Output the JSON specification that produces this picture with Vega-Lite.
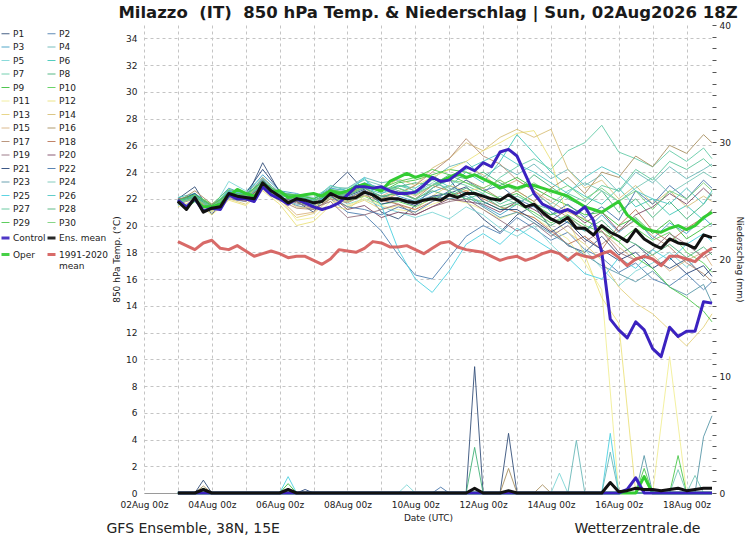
{
  "$schema": "https://vega.github.io/schema/vega-lite/v6.json",
  "width": 568,
  "height": 468,
  "autosize": "none",
  "padding": {"left": 144, "top": 25, "right": 38, "bottom": 54},
  "background": "white",
  "title": {
    "text": "Milazzo\u00a0 (IT)\u00a0 850 hPa Temp. & Niederschlag | Sun, 02Aug2026 18Z",
    "fontSize": 16.5,
    "fontWeight": "bold",
    "anchor": "middle",
    "offset": 0,
    "color": "#1a1a1a"
  },
  "config": {
    "font": "DejaVu Sans",
    "view": {"stroke": null},
    "axis": {
      "labelFontSize": 9,
      "labelColor": "#222",
      "titleFontSize": 9,
      "titleFontWeight": "normal",
      "titleColor": "#222",
      "gridColor": "#c4c4c4",
      "gridDash": [3, 3],
      "domain": false,
      "ticks": false
    }
  },
  "datasets": {
    "ens": [
      {"t":"2026-08-03T00:00Z","P1":22.0,"P2":21.6,"P3":21.9,"P4":21.7,"P5":21.5,"P6":22.1,"P7":21.9,"P8":21.7,"P9":21.8,"P10":21.9,"P11":21.6,"P12":21.4,"P13":21.8,"P14":22.0,"P15":21.7,"P16":21.8,"P17":21.6,"P18":21.9,"P19":22.0,"P20":21.7,"P21":21.8,"P22":21.9,"P23":21.8,"P24":21.7,"P25":21.6,"P26":21.8,"P27":21.9,"P28":21.8,"P29":21.9,"P30":21.8},
      {"t":"2026-08-03T12:00Z","P1":22.9,"P2":22.3,"P3":22.4,"P4":22.0,"P5":22.2,"P6":22.4,"P7":22.0,"P8":22.2,"P9":22.0,"P10":22.3,"P11":22.1,"P12":21.9,"P13":21.9,"P14":22.2,"P15":22.1,"P16":22.6,"P17":22.0,"P18":22.3,"P19":22.2,"P20":22.1,"P21":22.4,"P22":22.2,"P23":22.1,"P24":22.0,"P25":22.3,"P26":22.2,"P27":22.1,"P28":22.2,"P29":22.3,"P30":22.0},
      {"t":"2026-08-04T00:00Z","P1":20.8,"P2":21.2,"P3":21.5,"P4":21.0,"P5":21.1,"P6":21.4,"P7":21.2,"P8":21.5,"P9":21.4,"P10":21.6,"P11":21.0,"P12":20.8,"P13":21.1,"P14":21.5,"P15":21.3,"P16":21.6,"P17":21.2,"P18":21.4,"P19":21.3,"P20":21.5,"P21":21.2,"P22":21.4,"P23":21.3,"P24":21.4,"P25":21.3,"P26":21.2,"P27":21.5,"P28":21.3,"P29":21.5,"P30":21.4},
      {"t":"2026-08-04T12:00Z","P1":22.6,"P2":22.0,"P3":22.8,"P4":22.3,"P5":23.3,"P6":22.4,"P7":22.2,"P8":22.5,"P9":22.6,"P10":22.7,"P11":22.2,"P12":21.9,"P13":22.0,"P14":22.3,"P15":22.5,"P16":22.3,"P17":22.1,"P18":22.4,"P19":22.2,"P20":22.3,"P21":22.6,"P22":22.5,"P23":22.4,"P24":22.6,"P25":22.6,"P26":22.3,"P27":22.4,"P28":22.5,"P29":22.4,"P30":22.3},
      {"t":"2026-08-05T00:00Z","P1":22.0,"P2":21.8,"P3":22.3,"P4":22.4,"P5":22.6,"P6":22.1,"P7":22.2,"P8":22.0,"P9":22.3,"P10":22.4,"P11":21.9,"P12":21.5,"P13":21.6,"P14":22.0,"P15":22.0,"P16":22.1,"P17":21.8,"P18":22.2,"P19":22.3,"P20":21.9,"P21":22.4,"P22":22.2,"P23":22.0,"P24":22.4,"P25":22.3,"P26":22.3,"P27":22.1,"P28":22.3,"P29":22.3,"P30":22.2},
      {"t":"2026-08-05T12:00Z","P1":24.7,"P2":23.5,"P3":23.8,"P4":23.0,"P5":23.6,"P6":23.1,"P7":22.8,"P8":23.4,"P9":23.3,"P10":23.0,"P11":22.9,"P12":22.6,"P13":22.7,"P14":23.4,"P15":23.0,"P16":23.6,"P17":23.0,"P18":23.3,"P19":23.2,"P20":23.0,"P21":24.2,"P22":23.4,"P23":23.1,"P24":23.5,"P25":23.3,"P26":23.2,"P27":23.0,"P28":23.3,"P29":23.3,"P30":23.2},
      {"t":"2026-08-06T00:00Z","P1":22.5,"P2":22.0,"P3":22.6,"P4":22.0,"P5":22.4,"P6":22.5,"P7":21.9,"P8":22.3,"P9":22.4,"P10":22.0,"P11":22.1,"P12":21.6,"P13":21.8,"P14":22.2,"P15":22.0,"P16":22.4,"P17":21.9,"P18":22.3,"P19":22.0,"P20":22.1,"P21":22.6,"P22":22.3,"P23":22.1,"P24":22.5,"P25":22.4,"P26":22.2,"P27":22.4,"P28":22.3,"P29":22.4,"P30":22.3},
      {"t":"2026-08-06T12:00Z","P1":21.8,"P2":21.5,"P3":22.4,"P4":21.6,"P5":21.9,"P6":22.2,"P7":22.0,"P8":22.1,"P9":22.3,"P10":21.8,"P11":20.4,"P12":20.0,"P13":20.6,"P14":21.4,"P15":20.8,"P16":22.0,"P17":21.3,"P18":22.0,"P19":21.7,"P20":21.8,"P21":22.0,"P22":22.1,"P23":21.9,"P24":22.3,"P25":22.0,"P26":22.1,"P27":22.2,"P28":22.2,"P29":22.3,"P30":22.1},
      {"t":"2026-08-07T00:00Z","P1":21.0,"P2":21.2,"P3":22.0,"P4":21.5,"P5":21.8,"P6":21.9,"P7":21.7,"P8":21.6,"P9":22.0,"P10":21.4,"P11":20.6,"P12":20.3,"P13":20.9,"P14":21.3,"P15":21.0,"P16":21.8,"P17":21.2,"P18":21.6,"P19":21.3,"P20":21.5,"P21":21.8,"P22":21.9,"P23":21.6,"P24":22.1,"P25":21.6,"P26":21.8,"P27":21.9,"P28":21.8,"P29":22.0,"P30":21.8},
      {"t":"2026-08-07T12:00Z","P1":22.8,"P2":22.0,"P3":22.8,"P4":22.6,"P5":22.5,"P6":23.0,"P7":22.2,"P8":22.3,"P9":22.6,"P10":22.1,"P11":21.8,"P12":21.5,"P13":22.0,"P14":22.5,"P15":22.2,"P16":22.6,"P17":22.0,"P18":22.5,"P19":21.8,"P20":22.3,"P21":22.6,"P22":22.2,"P23":22.4,"P24":22.9,"P25":22.4,"P26":22.5,"P27":22.7,"P28":22.6,"P29":22.7,"P30":22.5},
      {"t":"2026-08-08T00:00Z","P1":24.0,"P2":21.0,"P3":22.6,"P4":22.8,"P5":21.6,"P6":22.6,"P7":21.9,"P8":22.2,"P9":22.4,"P10":21.8,"P11":21.5,"P12":21.2,"P13":21.4,"P14":22.4,"P15":21.8,"P16":22.4,"P17":21.7,"P18":22.0,"P19":20.6,"P20":21.2,"P21":22.2,"P22":21.4,"P23":22.1,"P24":22.8,"P25":22.5,"P26":22.3,"P27":22.5,"P28":22.3,"P29":22.4,"P30":22.2},
      {"t":"2026-08-08T12:00Z","P1":22.6,"P2":20.8,"P3":23.2,"P4":23.6,"P5":22.0,"P6":23.5,"P7":22.4,"P8":22.9,"P9":23.0,"P10":22.2,"P11":22.0,"P12":22.2,"P13":21.9,"P14":22.9,"P15":22.6,"P16":22.8,"P17":22.3,"P18":22.6,"P19":20.8,"P20":21.5,"P21":22.7,"P22":21.2,"P23":22.6,"P24":23.4,"P25":23.6,"P26":22.8,"P27":23.1,"P28":22.8,"P29":23.0,"P30":22.9},
      {"t":"2026-08-09T00:00Z","P1":21.0,"P2":19.6,"P3":22.8,"P4":23.2,"P5":21.4,"P6":22.4,"P7":22.1,"P8":22.6,"P9":22.5,"P10":21.6,"P11":21.5,"P12":22.0,"P13":21.2,"P14":22.7,"P15":22.2,"P16":22.0,"P17":21.8,"P18":21.9,"P19":21.2,"P20":20.6,"P21":21.6,"P22":20.8,"P23":22.2,"P24":23.0,"P25":21.5,"P26":22.4,"P27":22.6,"P28":22.2,"P29":22.8,"P30":22.6},
      {"t":"2026-08-09T12:00Z","P1":20.5,"P2":17.8,"P3":22.2,"P4":23.4,"P5":21.0,"P6":23.0,"P7":22.6,"P8":22.9,"P9":23.2,"P10":21.8,"P11":21.2,"P12":22.4,"P13":21.5,"P14":23.5,"P15":22.8,"P16":22.6,"P17":22.4,"P18":21.6,"P19":21.6,"P20":21.0,"P21":21.9,"P22":21.4,"P23":22.0,"P24":22.6,"P25":18.2,"P26":22.8,"P27":23.0,"P28":22.4,"P29":23.3,"P30":22.8},
      {"t":"2026-08-10T00:00Z","P1":21.5,"P2":16.3,"P3":21.8,"P4":22.5,"P5":20.6,"P6":22.8,"P7":21.9,"P8":23.2,"P9":23.4,"P10":21.4,"P11":21.0,"P12":23.0,"P13":21.2,"P14":23.0,"P15":22.2,"P16":22.0,"P17":23.0,"P18":21.2,"P19":20.8,"P20":20.8,"P21":21.5,"P22":21.0,"P23":21.8,"P24":22.4,"P25":16.0,"P26":22.4,"P27":22.6,"P28":22.0,"P29":23.6,"P30":22.3},
      {"t":"2026-08-10T12:00Z","P1":22.8,"P2":16.0,"P3":22.5,"P4":23.5,"P5":21.0,"P6":23.6,"P7":22.8,"P8":23.0,"P9":23.8,"P10":22.0,"P11":21.6,"P12":23.6,"P13":22.2,"P14":24.3,"P15":23.0,"P16":23.0,"P17":24.0,"P18":21.8,"P19":21.4,"P20":21.4,"P21":22.2,"P22":21.8,"P23":22.2,"P24":23.2,"P25":15.0,"P26":23.0,"P27":23.4,"P28":22.6,"P29":24.2,"P30":23.0},
      {"t":"2026-08-11T00:00Z","P1":23.5,"P2":17.6,"P3":23.0,"P4":24.4,"P5":20.5,"P6":22.9,"P7":23.4,"P8":23.8,"P9":24.2,"P10":22.5,"P11":22.0,"P12":24.2,"P13":23.0,"P14":25.0,"P15":23.6,"P16":22.6,"P17":25.0,"P18":22.2,"P19":21.8,"P20":22.0,"P21":22.4,"P22":22.6,"P23":22.0,"P24":22.8,"P25":16.6,"P26":23.6,"P27":22.6,"P28":22.2,"P29":23.8,"P30":23.4},
      {"t":"2026-08-11T12:00Z","P1":21.8,"P2":19.2,"P3":22.4,"P4":24.8,"P5":21.4,"P6":24.0,"P7":23.0,"P8":23.5,"P9":24.0,"P10":22.0,"P11":21.7,"P12":24.8,"P13":22.6,"P14":26.2,"P15":24.4,"P16":23.4,"P17":26.5,"P18":22.6,"P19":22.0,"P20":21.8,"P21":22.9,"P22":23.4,"P23":22.2,"P24":22.4,"P25":18.6,"P26":24.2,"P27":22.0,"P28":22.8,"P29":23.2,"P30":23.2},
      {"t":"2026-08-12T00:00Z","P1":20.5,"P2":20.0,"P3":21.5,"P4":23.6,"P5":20.8,"P6":23.2,"P7":22.4,"P8":24.0,"P9":23.5,"P10":21.8,"P11":21.2,"P12":25.6,"P13":22.8,"P14":25.6,"P15":23.8,"P16":22.8,"P17":25.2,"P18":22.0,"P19":21.2,"P20":21.6,"P21":21.8,"P22":22.6,"P23":21.4,"P24":21.6,"P25":19.4,"P26":24.8,"P27":22.4,"P28":22.2,"P29":22.6,"P30":22.8},
      {"t":"2026-08-12T12:00Z","P1":19.5,"P2":19.4,"P3":20.8,"P4":24.5,"P5":19.8,"P6":24.8,"P7":23.6,"P8":23.2,"P9":23.0,"P10":21.2,"P11":20.5,"P12":26.2,"P13":23.4,"P14":26.6,"P15":22.8,"P16":22.0,"P17":24.6,"P18":21.4,"P19":20.4,"P20":21.0,"P21":21.2,"P22":23.0,"P23":20.6,"P24":22.2,"P25":18.6,"P26":25.4,"P27":21.6,"P28":21.4,"P29":22.0,"P30":23.4},
      {"t":"2026-08-13T00:00Z","P1":20.8,"P2":20.6,"P3":21.6,"P4":23.8,"P5":19.2,"P6":26.8,"P7":24.4,"P8":22.6,"P9":23.6,"P10":21.6,"P11":21.0,"P12":26.9,"P13":22.6,"P14":27.2,"P15":23.4,"P16":22.6,"P17":23.4,"P18":21.0,"P19":19.6,"P20":21.8,"P21":21.2,"P22":22.0,"P23":21.0,"P24":21.6,"P25":19.8,"P26":24.6,"P27":22.2,"P28":21.8,"P29":22.4,"P30":22.6},
      {"t":"2026-08-13T12:00Z","P1":21.5,"P2":19.8,"P3":22.4,"P4":24.6,"P5":20.0,"P6":25.4,"P7":25.0,"P8":23.8,"P9":22.8,"P10":21.0,"P11":20.6,"P12":27.1,"P13":21.8,"P14":26.6,"P15":22.6,"P16":21.8,"P17":22.6,"P18":20.6,"P19":20.2,"P20":21.2,"P21":20.4,"P22":21.4,"P23":20.2,"P24":22.4,"P25":19.0,"P26":24.0,"P27":21.6,"P28":20.8,"P29":21.6,"P30":23.2},
      {"t":"2026-08-14T00:00Z","P1":19.8,"P2":18.9,"P3":21.0,"P4":23.5,"P5":18.6,"P6":24.0,"P7":24.2,"P8":22.9,"P9":22.1,"P10":20.2,"P11":19.8,"P12":24.9,"P13":20.6,"P14":27.2,"P15":21.8,"P16":22.8,"P17":21.5,"P18":19.6,"P19":19.2,"P20":20.4,"P21":19.5,"P22":20.8,"P23":19.4,"P24":21.6,"P25":18.2,"P26":23.2,"P27":21.2,"P28":20.0,"P29":20.8,"P30":22.4},
      {"t":"2026-08-14T12:00Z","P1":18.5,"P2":19.5,"P3":20.2,"P4":24.2,"P5":17.4,"P6":23.0,"P7":25.6,"P8":22.0,"P9":21.5,"P10":20.8,"P11":19.0,"P12":20.4,"P13":19.5,"P14":24.2,"P15":21.0,"P16":23.6,"P17":20.6,"P18":18.6,"P19":20.0,"P20":21.2,"P21":20.3,"P22":21.6,"P23":18.6,"P24":22.6,"P25":17.6,"P26":22.4,"P27":22.4,"P28":20.8,"P29":21.2,"P30":23.0},
      {"t":"2026-08-15T00:00Z","P1":18.0,"P2":18.2,"P3":19.6,"P4":23.0,"P5":18.2,"P6":22.2,"P7":26.2,"P8":21.4,"P9":20.8,"P10":20.0,"P11":17.2,"P12":17.8,"P13":18.6,"P14":22.8,"P15":20.5,"P16":22.4,"P17":19.8,"P18":19.2,"P19":18.8,"P20":20.2,"P21":19.0,"P22":20.6,"P23":17.8,"P24":23.2,"P25":16.4,"P26":23.6,"P27":21.8,"P28":19.6,"P29":20.4,"P30":22.0},
      {"t":"2026-08-15T12:00Z","P1":19.2,"P2":17.6,"P3":20.8,"P4":23.8,"P5":16.8,"P6":21.6,"P7":27.5,"P8":22.6,"P9":21.0,"P10":19.5,"P11":15.2,"P12":14.6,"P13":17.4,"P14":23.4,"P15":19.6,"P16":24.0,"P17":18.6,"P18":18.2,"P19":19.6,"P20":21.0,"P21":18.2,"P22":21.4,"P23":17.0,"P24":22.6,"P25":16.0,"P26":24.4,"P27":23.0,"P28":20.4,"P29":19.8,"P30":22.8},
      {"t":"2026-08-16T00:00Z","P1":17.8,"P2":16.5,"P3":19.5,"P4":22.5,"P5":15.5,"P6":22.8,"P7":25.5,"P8":21.0,"P9":20.0,"P10":18.8,"P11":0,"P12":12.7,"P13":15.4,"P14":22.0,"P15":18.4,"P16":23.6,"P17":19.6,"P18":20.0,"P19":18.0,"P20":19.6,"P21":17.4,"P22":20.4,"P23":16.4,"P24":21.8,"P25":17.6,"P26":23.8,"P27":22.6,"P28":19.2,"P29":18.8,"P30":21.8},
      {"t":"2026-08-16T12:00Z","P1":18.6,"P2":17.2,"P3":20.5,"P4":24.0,"P5":16.6,"P6":21.4,"P7":25.0,"P8":22.0,"P9":20.6,"P10":19.8,"P11":0,"P12":0,"P13":14.2,"P14":23.0,"P15":17.4,"P16":25.2,"P17":20.4,"P18":21.2,"P19":17.4,"P20":20.8,"P21":18.0,"P22":22.6,"P23":15.8,"P24":22.8,"P25":16.8,"P26":22.6,"P27":24.2,"P28":18.6,"P29":17.6,"P30":22.6},
      {"t":"2026-08-17T00:00Z","P1":17.5,"P2":16.0,"P3":19.0,"P4":23.2,"P5":17.2,"P6":22.0,"P7":24.4,"P8":20.6,"P9":19.4,"P10":18.9,"P11":0,"P12":0,"P13":13.4,"P14":21.6,"P15":17.8,"P16":24.4,"P17":19.2,"P18":19.6,"P19":18.2,"P20":21.4,"P21":16.8,"P22":21.6,"P23":16.6,"P24":23.6,"P25":18.2,"P26":22.0,"P27":23.4,"P28":17.8,"P29":16.8,"P30":21.2},
      {"t":"2026-08-17T12:00Z","P1":16.8,"P2":15.5,"P3":20.2,"P4":24.4,"P5":18.0,"P6":20.8,"P7":25.6,"P8":21.8,"P9":20.4,"P10":19.5,"P11":10.2,"P12":0,"P13":12.2,"P14":22.6,"P15":16.6,"P16":26.0,"P17":18.4,"P18":18.8,"P19":19.4,"P20":22.4,"P21":17.6,"P22":23.0,"P23":15.4,"P24":22.4,"P25":17.4,"P26":21.6,"P27":24.8,"P28":18.6,"P29":15.4,"P30":22.6},
      {"t":"2026-08-18T00:00Z","P1":17.5,"P2":16.4,"P3":19.4,"P4":23.5,"P5":16.9,"P6":21.5,"P7":24.8,"P8":20.5,"P9":19.0,"P10":18.0,"P11":0,"P12":0,"P13":11.0,"P14":21.4,"P15":17.4,"P16":25.4,"P17":17.2,"P18":19.8,"P19":18.6,"P20":21.6,"P21":16.4,"P22":22.0,"P23":14.8,"P24":23.2,"P25":18.6,"P26":22.8,"P27":24.2,"P28":17.6,"P29":14.6,"P30":22.0},
      {"t":"2026-08-18T12:00Z","P1":16.2,"P2":15.2,"P3":20.6,"P4":24.2,"P5":17.8,"P6":20.4,"P7":25.8,"P8":21.6,"P9":19.8,"P10":17.2,"P11":0,"P12":0,"P13":12.4,"P14":22.2,"P15":18.0,"P16":26.8,"P17":16.4,"P18":20.6,"P19":17.6,"P20":22.8,"P21":17.0,"P22":23.4,"P23":15.6,"P24":24.0,"P25":19.4,"P26":21.6,"P27":25.0,"P28":18.4,"P29":13.6,"P30":23.2},
      {"t":"2026-08-18T18:00Z","P1":16.8,"P2":15.8,"P3":20.0,"P4":24.6,"P5":18.4,"P6":21.2,"P7":25.0,"P8":22.4,"P9":20.2,"P10":16.5,"P11":0,"P12":0,"P13":13.4,"P14":21.8,"P15":17.0,"P16":26.2,"P17":15.8,"P18":21.2,"P19":18.0,"P20":22.2,"P21":16.2,"P22":22.8,"P23":14.2,"P24":23.6,"P25":18.8,"P26":22.6,"P27":24.4,"P28":17.8,"P29":12.8,"P30":22.6}
    ],
    "main": [
      {"t":"2026-08-03T00:00Z","C":21.9,"M":21.8,"O":21.8,"K":18.8},
      {"t":"2026-08-03T06:00Z","C":21.4,"M":21.2,"O":21.4,"K":18.5},
      {"t":"2026-08-03T12:00Z","C":22.0,"M":22.1,"O":21.9,"K":18.2},
      {"t":"2026-08-03T18:00Z","C":21.1,"M":21.0,"O":21.4,"K":18.7},
      {"t":"2026-08-04T00:00Z","C":21.3,"M":21.3,"O":21.4,"K":18.9},
      {"t":"2026-08-04T06:00Z","C":21.2,"M":21.4,"O":21.6,"K":18.3},
      {"t":"2026-08-04T12:00Z","C":22.3,"M":22.4,"O":22.2,"K":18.2},
      {"t":"2026-08-04T18:00Z","C":22.0,"M":22.2,"O":22.7,"K":18.5},
      {"t":"2026-08-05T00:00Z","C":22.0,"M":22.1,"O":22.4,"K":18.1},
      {"t":"2026-08-05T06:00Z","C":21.8,"M":22.0,"O":22.2,"K":17.7},
      {"t":"2026-08-05T12:00Z","C":22.9,"M":23.2,"O":22.9,"K":17.9},
      {"t":"2026-08-05T18:00Z","C":22.3,"M":22.6,"O":22.5,"K":18.1},
      {"t":"2026-08-06T00:00Z","C":22.0,"M":22.2,"O":22.6,"K":17.9},
      {"t":"2026-08-06T06:00Z","C":21.6,"M":21.7,"O":22.1,"K":17.6},
      {"t":"2026-08-06T12:00Z","C":22.0,"M":22.0,"O":22.2,"K":17.7},
      {"t":"2026-08-06T18:00Z","C":21.7,"M":21.9,"O":22.3,"K":17.7},
      {"t":"2026-08-07T00:00Z","C":21.4,"M":21.7,"O":22.4,"K":17.4},
      {"t":"2026-08-07T06:00Z","C":21.2,"M":21.8,"O":22.2,"K":17.1},
      {"t":"2026-08-07T12:00Z","C":21.4,"M":22.4,"O":22.6,"K":17.5},
      {"t":"2026-08-07T18:00Z","C":21.7,"M":22.1,"O":22.4,"K":18.2},
      {"t":"2026-08-08T00:00Z","C":22.3,"M":22.0,"O":22.6,"K":18.1},
      {"t":"2026-08-08T06:00Z","C":22.9,"M":22.1,"O":22.9,"K":18.0},
      {"t":"2026-08-08T12:00Z","C":22.9,"M":22.5,"O":23.1,"K":18.3},
      {"t":"2026-08-08T18:00Z","C":22.8,"M":22.3,"O":22.8,"K":18.8},
      {"t":"2026-08-09T00:00Z","C":22.9,"M":21.9,"O":22.6,"K":18.7},
      {"t":"2026-08-09T06:00Z","C":22.6,"M":22.0,"O":23.3,"K":18.4},
      {"t":"2026-08-09T12:00Z","C":22.4,"M":22.0,"O":23.6,"K":18.4},
      {"t":"2026-08-09T18:00Z","C":22.4,"M":21.8,"O":23.9,"K":18.5},
      {"t":"2026-08-10T00:00Z","C":22.5,"M":21.7,"O":23.6,"K":18.2},
      {"t":"2026-08-10T06:00Z","C":23.0,"M":21.9,"O":23.8,"K":17.9},
      {"t":"2026-08-10T12:00Z","C":23.6,"M":22.0,"O":23.6,"K":18.3},
      {"t":"2026-08-10T18:00Z","C":23.3,"M":21.9,"O":23.3,"K":18.7},
      {"t":"2026-08-11T00:00Z","C":23.4,"M":22.3,"O":23.6,"K":18.8},
      {"t":"2026-08-11T06:00Z","C":23.9,"M":22.1,"O":23.9,"K":18.4},
      {"t":"2026-08-11T12:00Z","C":24.4,"M":22.4,"O":23.6,"K":18.2},
      {"t":"2026-08-11T18:00Z","C":24.1,"M":22.4,"O":23.8,"K":18.1},
      {"t":"2026-08-12T00:00Z","C":24.7,"M":22.2,"O":23.5,"K":18.0},
      {"t":"2026-08-12T06:00Z","C":24.4,"M":22.0,"O":23.2,"K":17.7},
      {"t":"2026-08-12T12:00Z","C":25.5,"M":21.9,"O":22.8,"K":17.4},
      {"t":"2026-08-12T18:00Z","C":25.7,"M":22.3,"O":23.0,"K":17.6},
      {"t":"2026-08-13T00:00Z","C":25.2,"M":21.9,"O":22.8,"K":17.7},
      {"t":"2026-08-13T06:00Z","C":23.8,"M":21.4,"O":23.0,"K":17.4},
      {"t":"2026-08-13T12:00Z","C":22.4,"M":21.6,"O":23.0,"K":17.6},
      {"t":"2026-08-13T18:00Z","C":21.6,"M":21.0,"O":22.8,"K":17.9},
      {"t":"2026-08-14T00:00Z","C":21.3,"M":20.5,"O":22.6,"K":18.1},
      {"t":"2026-08-14T06:00Z","C":21.0,"M":20.2,"O":22.4,"K":17.9},
      {"t":"2026-08-14T12:00Z","C":21.2,"M":20.6,"O":22.2,"K":17.4},
      {"t":"2026-08-14T18:00Z","C":20.9,"M":19.8,"O":21.8,"K":17.9},
      {"t":"2026-08-15T00:00Z","C":21.4,"M":19.8,"O":21.4,"K":17.7},
      {"t":"2026-08-15T06:00Z","C":20.4,"M":19.3,"O":21.2,"K":17.6},
      {"t":"2026-08-15T12:00Z","C":18.0,"M":20.0,"O":21.0,"K":17.9},
      {"t":"2026-08-15T18:00Z","C":13.0,"M":19.5,"O":21.4,"K":18.1},
      {"t":"2026-08-16T00:00Z","C":12.2,"M":19.2,"O":21.8,"K":17.6},
      {"t":"2026-08-16T06:00Z","C":11.6,"M":18.8,"O":20.8,"K":17.0},
      {"t":"2026-08-16T12:00Z","C":12.8,"M":19.7,"O":20.3,"K":17.5},
      {"t":"2026-08-16T18:00Z","C":12.2,"M":19.0,"O":19.8,"K":17.7},
      {"t":"2026-08-17T00:00Z","C":10.8,"M":18.6,"O":19.6,"K":17.5},
      {"t":"2026-08-17T06:00Z","C":10.2,"M":18.3,"O":19.5,"K":17.0},
      {"t":"2026-08-17T12:00Z","C":12.4,"M":19.0,"O":19.8,"K":17.7},
      {"t":"2026-08-17T18:00Z","C":11.7,"M":18.7,"O":20.0,"K":17.7},
      {"t":"2026-08-18T00:00Z","C":12.1,"M":18.6,"O":19.7,"K":17.5},
      {"t":"2026-08-18T06:00Z","C":12.1,"M":18.3,"O":20.0,"K":17.3},
      {"t":"2026-08-18T12:00Z","C":14.3,"M":19.3,"O":20.6,"K":17.9},
      {"t":"2026-08-18T18:00Z","C":14.2,"M":19.1,"O":21.0,"K":18.3}
    ],
    "rain": [
      {"t":"2026-08-03T00:00Z","s":"P1","p":0},
      {"t":"2026-08-03T12:00Z","s":"P1","p":0},
      {"t":"2026-08-03T18:00Z","s":"P1","p":1.1},
      {"t":"2026-08-04T00:00Z","s":"P1","p":0},
      {"t":"2026-08-11T12:00Z","s":"P1","p":0},
      {"t":"2026-08-11T18:00Z","s":"P1","p":10.8},
      {"t":"2026-08-12T00:00Z","s":"P1","p":0},
      {"t":"2026-08-12T12:00Z","s":"P1","p":0},
      {"t":"2026-08-12T18:00Z","s":"P1","p":5.1},
      {"t":"2026-08-13T00:00Z","s":"P1","p":0},
      {"t":"2026-08-18T18:00Z","s":"P1","p":0},
      {"t":"2026-08-03T00:00Z","s":"P8","p":0},
      {"t":"2026-08-11T12:00Z","s":"P8","p":0},
      {"t":"2026-08-11T18:00Z","s":"P8","p":3.9},
      {"t":"2026-08-12T00:00Z","s":"P8","p":0},
      {"t":"2026-08-18T18:00Z","s":"P8","p":0},
      {"t":"2026-08-03T00:00Z","s":"P16","p":0},
      {"t":"2026-08-03T12:00Z","s":"P16","p":0},
      {"t":"2026-08-03T18:00Z","s":"P16","p":0.6},
      {"t":"2026-08-04T00:00Z","s":"P16","p":0},
      {"t":"2026-08-12T12:00Z","s":"P16","p":0},
      {"t":"2026-08-12T18:00Z","s":"P16","p":2.1},
      {"t":"2026-08-13T00:00Z","s":"P16","p":0},
      {"t":"2026-08-13T12:00Z","s":"P16","p":0},
      {"t":"2026-08-13T18:00Z","s":"P16","p":0.7},
      {"t":"2026-08-14T00:00Z","s":"P16","p":0},
      {"t":"2026-08-18T18:00Z","s":"P16","p":0},
      {"t":"2026-08-03T00:00Z","s":"P25","p":0},
      {"t":"2026-08-06T00:00Z","s":"P25","p":0},
      {"t":"2026-08-06T06:00Z","s":"P25","p":1.4},
      {"t":"2026-08-06T12:00Z","s":"P25","p":0},
      {"t":"2026-08-15T12:00Z","s":"P25","p":0},
      {"t":"2026-08-15T18:00Z","s":"P25","p":5.1},
      {"t":"2026-08-16T00:00Z","s":"P25","p":0},
      {"t":"2026-08-18T18:00Z","s":"P25","p":0},
      {"t":"2026-08-03T00:00Z","s":"P9","p":0},
      {"t":"2026-08-03T12:00Z","s":"P9","p":0},
      {"t":"2026-08-03T18:00Z","s":"P9","p":0.4},
      {"t":"2026-08-04T00:00Z","s":"P9","p":0},
      {"t":"2026-08-06T00:00Z","s":"P9","p":0},
      {"t":"2026-08-06T06:00Z","s":"P9","p":0.8},
      {"t":"2026-08-06T12:00Z","s":"P9","p":0},
      {"t":"2026-08-18T18:00Z","s":"P9","p":0},
      {"t":"2026-08-03T00:00Z","s":"P5","p":0},
      {"t":"2026-08-09T12:00Z","s":"P5","p":0},
      {"t":"2026-08-09T18:00Z","s":"P5","p":0.7},
      {"t":"2026-08-10T00:00Z","s":"P5","p":0},
      {"t":"2026-08-14T00:00Z","s":"P5","p":0},
      {"t":"2026-08-14T06:00Z","s":"P5","p":1.7},
      {"t":"2026-08-14T12:00Z","s":"P5","p":0},
      {"t":"2026-08-18T18:00Z","s":"P5","p":0},
      {"t":"2026-08-03T00:00Z","s":"P4","p":0},
      {"t":"2026-08-14T12:00Z","s":"P4","p":0},
      {"t":"2026-08-14T18:00Z","s":"P4","p":4.5},
      {"t":"2026-08-15T00:00Z","s":"P4","p":0},
      {"t":"2026-08-15T12:00Z","s":"P4","p":0},
      {"t":"2026-08-15T18:00Z","s":"P4","p":3.5},
      {"t":"2026-08-16T00:00Z","s":"P4","p":0},
      {"t":"2026-08-18T18:00Z","s":"P4","p":0},
      {"t":"2026-08-03T00:00Z","s":"P23","p":0},
      {"t":"2026-08-16T12:00Z","s":"P23","p":0},
      {"t":"2026-08-16T18:00Z","s":"P23","p":3.2},
      {"t":"2026-08-17T00:00Z","s":"P23","p":0},
      {"t":"2026-08-18T06:00Z","s":"P23","p":0},
      {"t":"2026-08-18T12:00Z","s":"P23","p":4.8},
      {"t":"2026-08-18T18:00Z","s":"P23","p":6.6},
      {"t":"2026-08-03T00:00Z","s":"P29","p":0},
      {"t":"2026-08-16T12:00Z","s":"P29","p":0},
      {"t":"2026-08-16T18:00Z","s":"P29","p":2.1},
      {"t":"2026-08-17T00:00Z","s":"P29","p":0},
      {"t":"2026-08-17T12:00Z","s":"P29","p":0},
      {"t":"2026-08-17T18:00Z","s":"P29","p":3.2},
      {"t":"2026-08-18T00:00Z","s":"P29","p":0},
      {"t":"2026-08-18T18:00Z","s":"P29","p":0},
      {"t":"2026-08-03T00:00Z","s":"P22","p":0},
      {"t":"2026-08-10T12:00Z","s":"P22","p":0},
      {"t":"2026-08-10T18:00Z","s":"P22","p":0.5},
      {"t":"2026-08-11T00:00Z","s":"P22","p":0},
      {"t":"2026-08-18T18:00Z","s":"P22","p":0},
      {"t":"2026-08-03T00:00Z","s":"P21","p":0},
      {"t":"2026-08-06T12:00Z","s":"P21","p":0},
      {"t":"2026-08-06T18:00Z","s":"P21","p":0.3},
      {"t":"2026-08-07T00:00Z","s":"P21","p":0},
      {"t":"2026-08-18T18:00Z","s":"P21","p":0},
      {"t":"2026-08-03T00:00Z","s":"P24","p":0},
      {"t":"2026-08-17T12:00Z","s":"P24","p":0},
      {"t":"2026-08-17T18:00Z","s":"P24","p":2.0},
      {"t":"2026-08-18T00:00Z","s":"P24","p":0},
      {"t":"2026-08-18T06:00Z","s":"P24","p":1.5},
      {"t":"2026-08-18T12:00Z","s":"P24","p":0},
      {"t":"2026-08-18T18:00Z","s":"P24","p":0},
      {"t":"2026-08-03T00:00Z","s":"C","p":0},
      {"t":"2026-08-16T00:00Z","s":"C","p":0},
      {"t":"2026-08-16T06:00Z","s":"C","p":0.3},
      {"t":"2026-08-16T12:00Z","s":"C","p":1.3},
      {"t":"2026-08-16T18:00Z","s":"C","p":0},
      {"t":"2026-08-18T18:00Z","s":"C","p":0},
      {"t":"2026-08-03T00:00Z","s":"O","p":0},
      {"t":"2026-08-16T12:00Z","s":"O","p":0},
      {"t":"2026-08-16T18:00Z","s":"O","p":1.4},
      {"t":"2026-08-17T00:00Z","s":"O","p":0},
      {"t":"2026-08-18T18:00Z","s":"O","p":0},
      {"t":"2026-08-03T00:00Z","s":"M","p":0},
      {"t":"2026-08-03T12:00Z","s":"M","p":0},
      {"t":"2026-08-03T18:00Z","s":"M","p":0.3},
      {"t":"2026-08-04T00:00Z","s":"M","p":0},
      {"t":"2026-08-06T00:00Z","s":"M","p":0},
      {"t":"2026-08-06T06:00Z","s":"M","p":0.3},
      {"t":"2026-08-06T12:00Z","s":"M","p":0},
      {"t":"2026-08-11T12:00Z","s":"M","p":0},
      {"t":"2026-08-11T18:00Z","s":"M","p":0.4},
      {"t":"2026-08-12T00:00Z","s":"M","p":0},
      {"t":"2026-08-12T12:00Z","s":"M","p":0},
      {"t":"2026-08-12T18:00Z","s":"M","p":0.2},
      {"t":"2026-08-13T00:00Z","s":"M","p":0},
      {"t":"2026-08-15T12:00Z","s":"M","p":0},
      {"t":"2026-08-15T18:00Z","s":"M","p":0.9},
      {"t":"2026-08-16T00:00Z","s":"M","p":0.1},
      {"t":"2026-08-16T06:00Z","s":"M","p":0.2},
      {"t":"2026-08-16T12:00Z","s":"M","p":0.4},
      {"t":"2026-08-16T18:00Z","s":"M","p":0.3},
      {"t":"2026-08-17T00:00Z","s":"M","p":0.3},
      {"t":"2026-08-17T06:00Z","s":"M","p":0.2},
      {"t":"2026-08-17T12:00Z","s":"M","p":0.3},
      {"t":"2026-08-17T18:00Z","s":"M","p":0.4},
      {"t":"2026-08-18T00:00Z","s":"M","p":0.2},
      {"t":"2026-08-18T06:00Z","s":"M","p":0.3},
      {"t":"2026-08-18T12:00Z","s":"M","p":0.4},
      {"t":"2026-08-18T18:00Z","s":"M","p":0.4}
    ]
  },
  "encoding": {
    "x": {
      "field": "t",
      "type": "temporal",
      "scale": {
        "type": "utc",
        "domain": [
          {"year": 2026, "month": 8, "date": 2, "utc": true},
          {"year": 2026, "month": 8, "date": 18, "hours": 18, "utc": true}
        ]
      },
      "axis": {
        "title": "Date (UTC)",
        "tickCount": {"interval": "day", "step": 1},
        "labelExpr": "utcdate(datum.value) % 2 == 0 ? utcFormat(datum.value, '%d%b %Hz') : ''",
        "grid": true,
        "domain": true,
        "domainColor": "#9a9a9a",
        "labelPadding": 7,
        "titlePadding": 4,
        "labelOverlap": false,
        "labelFlush": false,
        "labelBound": false
      }
    },
    "color": {
      "field": "s",
      "type": "nominal",
      "scale": {
        "domain": ["P1","P2","P3","P4","P5","P6","P7","P8","P9","P10","P11","P12","P13","P14","P15","P16","P17","P18","P19","P20","P21","P22","P23","P24","P25","P26","P27","P28","P29","P30","C","M","O","K"],
        "range": ["#34507a","#4f7fb0","#3f9ec4","#6ab8b8","#7ed6d6","#40c8b8","#66cca8","#44b27a","#3cc03c","#5cd05c","#f2ee96","#ece27e","#e6d27e","#d8c07a","#dab482","#a89060","#b48c72","#bb7658","#94707e","#7e4a66","#27457a","#4a78ac","#5a98a8","#78c8b8","#4cd0e0","#52c8c4","#5cc69a","#50b47c","#4cc84c","#7cd27c","#3b22c0","#111111","#33cc33","#d45a58"]
      },
      "legend": {
        "orient": "none",
        "legendX": -144,
        "legendY": 4,
        "direction": "horizontal",
        "columns": 2,
        "symbolLimit": 0,
        "title": null,
        "padding": 0,
        "symbolType": "stroke",
        "symbolSize": 64,
        "labelFontSize": 9,
        "labelColor": "#222",
        "labelOffset": 2,
        "rowPadding": 3.5,
        "columnPadding": -6,
        "labelLimit": 90,
        "labelExpr": "datum.label == 'C' ? 'Control' : datum.label == 'M' ? 'Ens. mean' : datum.label == 'O' ? 'Oper' : datum.label == 'K' ? ['1991-2020', 'mean'] : datum.label"
      }
    },
    "strokeWidth": {
      "field": "s",
      "type": "nominal",
      "scale": {
        "type": "ordinal",
        "domain": ["P1","P2","P3","P4","P5","P6","P7","P8","P9","P10","P11","P12","P13","P14","P15","P16","P17","P18","P19","P20","P21","P22","P23","P24","P25","P26","P27","P28","P29","P30","C","M","O","K"],
        "range": [1,1,1,1,1,1,1,1,1,1,1,1,1,1,1,1,1,1,1,1,1,1,1,1,1,1,1,1,1,1,3,3,3,3]
      }
    }
  },
  "layer": [
    {
      "encoding": {
        "y": {
          "field": "v",
          "type": "quantitative",
          "scale": {"domain": [0, 35], "nice": false, "zero": true},
          "axis": {
            "title": "850 hPa Temp. (°C)",
            "values": [0,2,4,6,8,10,12,14,16,18,20,22,24,26,28,30,32,34],
            "grid": true,
            "labelPadding": 7,
            "titlePadding": 4
          }
        }
      },
      "layer": [
        {
          "data": {"name": "ens"},
          "transform": [{"fold": ["P1","P2","P3","P4","P5","P6","P7","P8","P9","P10","P11","P12","P13","P14","P15","P16","P17","P18","P19","P20","P21","P22","P23","P24","P25","P26","P27","P28","P29","P30"], "as": ["s", "v"]}],
          "mark": {"type": "line", "opacity": 0.9},
          "encoding": {}
        },
        {
          "data": {"name": "main"},
          "transform": [{"fold": ["O"], "as": ["s", "v"]}],
          "mark": {"type": "line", "strokeJoin": "round"},
          "encoding": {}
        },
        {
          "data": {"name": "main"},
          "transform": [{"fold": ["C"], "as": ["s", "v"]}],
          "mark": {"type": "line", "strokeJoin": "round"},
          "encoding": {}
        },
        {
          "data": {"name": "main"},
          "transform": [{"fold": ["K"], "as": ["s", "v"]}],
          "mark": {"type": "line", "strokeJoin": "round", "opacity": 0.9},
          "encoding": {}
        },
        {
          "data": {"name": "main"},
          "transform": [{"fold": ["M"], "as": ["s", "v"]}],
          "mark": {"type": "line", "strokeJoin": "round"},
          "encoding": {}
        }
      ]
    },
    {
      "encoding": {
        "x": {
          "field": "t",
          "type": "temporal",
          "axis": {
            "orient": "bottom",
            "title": "GFS Ensemble, 38N, 15E",
            "labels": false,
            "ticks": false,
            "domain": false,
            "grid": false,
            "titleFontSize": 14,
            "titleColor": "#222",
            "titleAnchor": "start",
            "titleAlign": "left",
            "titleBaseline": "middle",
            "titleX": -38,
            "titleY": 35
          }
        },
        "y": {
          "field": "p",
          "type": "quantitative",
          "scale": {"domain": [0, 40], "nice": false, "zero": true},
          "axis": {
            "orient": "right",
            "title": "Niederschlag (mm)",
            "values": [0,1,2,3,4,5,6,7,8,9,10,11,12,13,14,15,16,17,18,19,20,21,22,23,24,25,26,27,28,29,30,31,32,33,34,35,36,37,38,39,40],
            "labelExpr": "datum.value % 10 == 0 ? datum.label : ''",
            "labelOverlap": false,
            "ticks": true,
            "tickSize": 4,
            "tickColor": "#555",
            "grid": false,
            "labelPadding": 3,
            "titlePadding": 4
          }
        }
      },
      "layer": [
        {
          "data": {"name": "rain"},
          "transform": [{"filter": "indexof(datum.s, 'P') == 0"}],
          "mark": {"type": "line", "opacity": 0.9},
          "encoding": {}
        },
        {
          "data": {"name": "rain"},
          "transform": [{"filter": "datum.s == 'O'"}],
          "mark": {"type": "line", "strokeJoin": "round"},
          "encoding": {}
        },
        {
          "data": {"name": "rain"},
          "transform": [{"filter": "datum.s == 'C'"}],
          "mark": {"type": "line", "strokeJoin": "round"},
          "encoding": {}
        }
      ]
    },
    {
      "encoding": {
        "x": {
          "field": "t",
          "type": "temporal",
          "axis": {
            "orient": "bottom",
            "title": "Wetterzentrale.de",
            "labels": false,
            "ticks": false,
            "domain": false,
            "grid": false,
            "titleFontSize": 14,
            "titleColor": "#222",
            "titleAnchor": "end",
            "titleAlign": "right",
            "titleBaseline": "middle",
            "titleX": 556,
            "titleY": 35
          }
        },
        "y": {
          "field": "p",
          "type": "quantitative",
          "scale": {"domain": [0, 40], "nice": false, "zero": true},
          "axis": null
        }
      },
      "layer": [
        {
          "data": {"name": "rain"},
          "transform": [{"filter": "datum.s == 'M'"}],
          "mark": {"type": "line", "strokeJoin": "round"},
          "encoding": {}
        }
      ]
    }
  ],
  "resolve": {"scale": {"y": "independent"}, "axis": {"x": "independent", "y": "independent"}}
}
